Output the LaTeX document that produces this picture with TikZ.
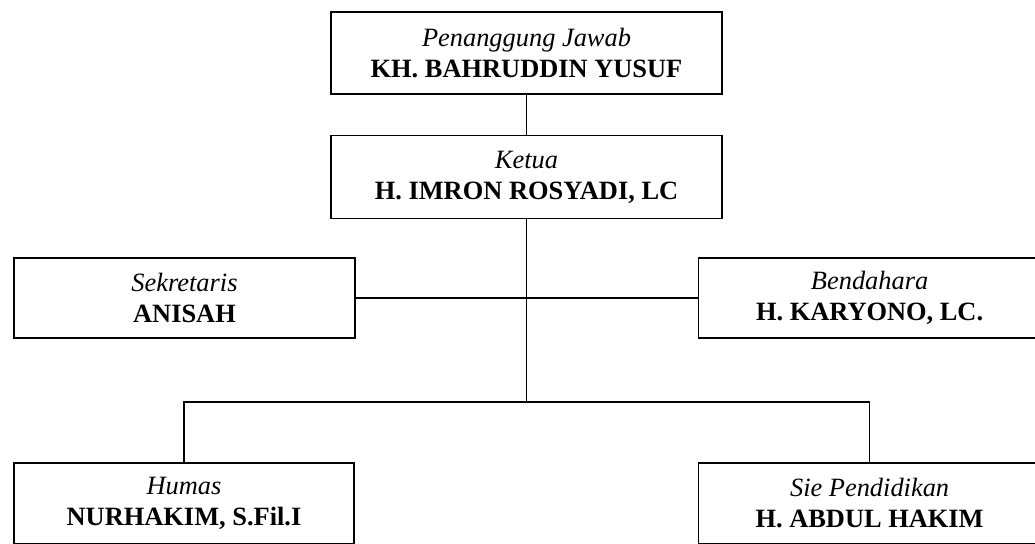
\documentclass[tikz,border=0pt]{standalone}
\usepackage{fontspec}
\setmainfont{Liberation Serif}
\usetikzlibrary{positioning}

\begin{document}
\begin{tikzpicture}[x=1pt,y=-1pt]

\tikzstyle{jabatan}=[rectangle, draw, line width=1.6pt, align=center, inner sep=0pt, font=\fontsize{26.4}{31}\selectfont]
\tikzstyle{garis}=[line width=1.6pt]

\useasboundingbox (0,0) rectangle (1035,543);

\node[jabatan, minimum width=391pt, minimum height=82pt] (pj) at (526.5,53) {\textit{Penanggung Jawab}\\\textbf{KH. BAHRUDDIN YUSUF}};
\node[jabatan, minimum width=391pt, minimum height=83pt, below=40pt of pj] (ketua) {\textit{Ketua}\\\textbf{H. IMRON ROSYADI, LC}};
\node[jabatan, minimum width=341pt, minimum height=80pt] (sekr) at (184.5,298) {\textit{Sekretaris}\\\textbf{ANISAH}};
\node[jabatan, minimum width=342pt, minimum height=80pt, right=342pt of sekr] (bend) {\textit{Bendahara}\\\textbf{H. KARYONO, LC.}};
\node[jabatan, minimum width=340pt, minimum height=81pt] (humas) at (184,503.5) {\textit{Humas}\\\textbf{NURHAKIM, S.Fil.I}};
\node[jabatan, minimum width=342pt, minimum height=81pt, right=343pt of humas] (sie) {\textit{Sie Pendidikan}\\\textbf{H. ABDUL HAKIM}};
\coordinate (bus) at (ketua.south |- 0,402);

\draw[garis] (pj) -- (ketua);
\draw[garis] (sekr) -- (bend);
\draw[garis] (ketua) -- (bus);
\draw[garis] (humas) |- (bus) -| (sie);

\end{tikzpicture}
\end{document}
